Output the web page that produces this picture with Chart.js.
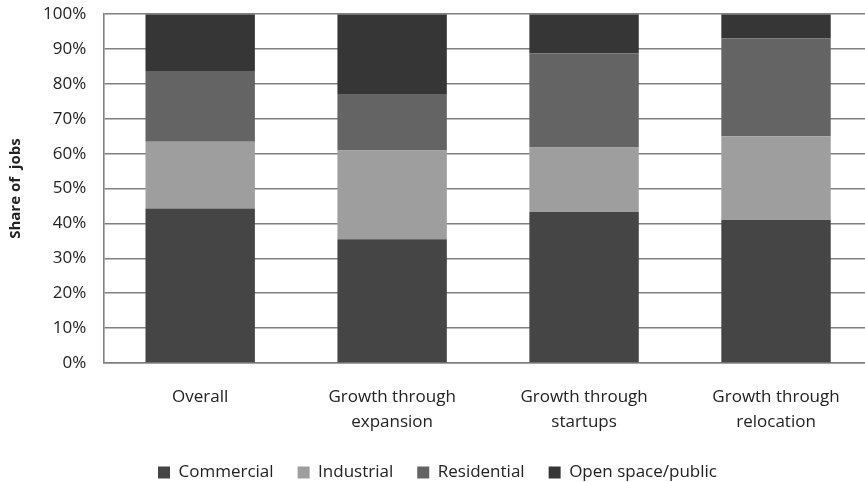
<!DOCTYPE html>
<html>
<head>
<meta charset="utf-8">
<script src="https://cdn.jsdelivr.net/npm/chart.js@4.4.1/dist/chart.umd.min.js"></script>
<style>
  html, body { margin: 0; padding: 0; background: #fff; overflow: hidden; }
  #wrap { width: 872px; height: 505px; margin-top: -14px; }
</style>
</head>
<body>
<div id="wrap"><canvas id="chart"></canvas></div>
<script>
// categories (multi-line labels)
const categories = [
    ['Overall'],
    ['Growth through', 'expansion'],
    ['Growth through', 'startups'],
    ['Growth through', 'relocation']
];

// share of jobs, percent
const commercial  = [44.3, 35.5, 43.3, 41.0];
const industrial  = [19.1, 25.4, 18.5, 24.0];
const residential = [20.3, 16.0, 27.0, 28.0];
const openSpace   = [16.3, 23.1, 11.2, 7.0];

const yTicks = [0, 10, 20, 30, 40, 50, 60, 70, 80, 90, 100];

const font = "'Open Sans', sans-serif";

const ctx = document.getElementById('chart').getContext('2d');
new Chart(ctx, {
    type: 'bar',
    data: {
        labels: categories,
        datasets: [{
            label: 'Commercial',
            data: commercial,
            backgroundColor: '#454545'
        }, {
            label: 'Industrial',
            data: industrial,
            backgroundColor: '#9e9e9e'
        }, {
            label: 'Residential',
            data: residential,
            backgroundColor: '#646464'
        }, {
            label: 'Open space/public',
            data: openSpace,
            backgroundColor: '#363636'
        }]
    },
    options: {
        responsive: true,
        maintainAspectRatio: false,
        animation: false,
        datasets: {
            bar: { categoryPercentage: 1, barPercentage: 0.57, borderWidth: 0 }
        },
        layout: { padding: { left: 3, top: 0, right: 0, bottom: 0 } },
        plugins: {
            tooltip: { enabled: false },
            legend: {
                position: 'bottom',
                labels: {
                    font: { family: font, size: 17 },
                    color: '#222',
                    boxWidth: 12,
                    boxHeight: 12,
                    padding: 24
                }
            }
        },
        scales: {
            x: {
                stacked: true,
                grid: { display: false },
                border: { color: '#808080', width: 1.5 },
                ticks: {
                    font: { family: font, size: 17, lineHeight: 1.5 },
                    color: '#222',
                    padding: 13,
                    maxRotation: 0
                },
                // pull the legend a bit closer to the labels
                afterFit: function(axis) { axis.height -= 8; }
            },
            y: {
                stacked: true,
                min: 0,
                max: 100,
                afterBuildTicks: function(axis) {
                    axis.ticks = yTicks.map(v => ({ value: v }));
                },
                grid: { color: '#808080', lineWidth: 1.6, drawTicks: false },
                border: { color: '#808080', width: 1.6 },
                ticks: {
                    font: { family: font, size: 17 },
                    color: '#222',
                    padding: 18,
                    callback: v => v + '%'
                },
                title: {
                    display: true,
                    text: 'Share of  jobs',
                    font: { family: font, size: 15, weight: 'bold' },
                    color: '#222',
                    padding: { bottom: 0 }
                }
            }
        }
    }
});
</script>
</body>
</html>
